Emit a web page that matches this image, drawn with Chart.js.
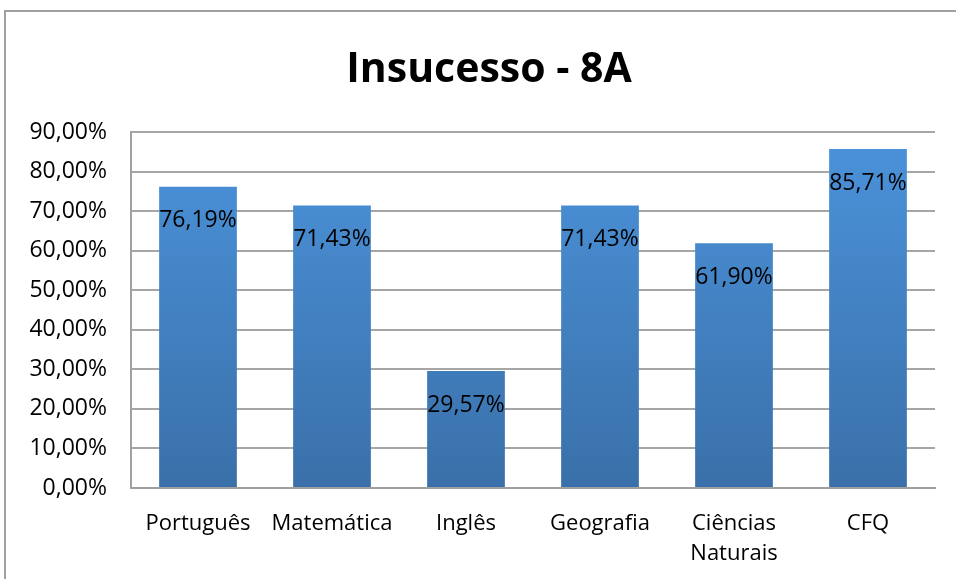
<!DOCTYPE html>
<html>
<head>
<meta charset="utf-8">
<script src="https://cdn.jsdelivr.net/npm/chart.js@4/dist/chart.umd.min.js"></script>
<style>
  html, body { margin: 0; padding: 0; overflow: hidden; background: #fff; }
  #frame { position: absolute; left: 4px; top: 10px; width: 1000px; height: 700px; border: 2px solid #a0a0a0; box-sizing: border-box; }
  #wrap { position: absolute; left: 0; top: 0; width: 956px; height: 579px; }
</style>
</head>
<body>
<div id="frame"></div>
<div id="wrap"><canvas id="chartInsucesso"></canvas></div>
<script>
// disciplinas e percentagens de insucesso
const titulo = 'Insucesso - 8A';
const disciplinas = ['Português', 'Matemática', 'Inglês', 'Geografia', ['Ciências', 'Naturais'], 'CFQ'];
const insucesso = [76.19, 71.43, 29.57, 71.43, 61.90, 85.71];
const yTicks = [0, 10, 20, 30, 40, 50, 60, 70, 80, 90];

const fmt = v => v.toFixed(2).replace('.', ',') + '%';
const fonte = "'Open Sans', sans-serif";

// titulo centrado no quadro (mais largo que a janela)
const tituloPlugin = {
  id: 'tituloPlugin',
  afterDraw(chart) {
    const ctx = chart.ctx;
    ctx.save();
    ctx.font = 'bold 41px ' + fonte;
    ctx.fillStyle = '#000';
    ctx.textAlign = 'center';
    ctx.textBaseline = 'middle';
    ctx.fillText(titulo, 489, 70);
    ctx.restore();
  }
};

// etiquetas dentro das barras
const etiquetas = {
  id: 'etiquetas',
  afterDatasetsDraw(chart) {
    const ctx = chart.ctx;
    ctx.save();
    ctx.font = '23px ' + fonte;
    ctx.fillStyle = '#000';
    ctx.textAlign = 'center';
    ctx.textBaseline = 'middle';
    chart.getDatasetMeta(0).data.forEach((bar, i) => {
      ctx.fillText(fmt(insucesso[i]), bar.x, bar.y + 34);
    });
    ctx.restore();
  }
};

const ctx1 = document.getElementById('chartInsucesso').getContext('2d');
const chartInsucesso = new Chart(ctx1, {
  type: 'bar',
  data: {
    labels: disciplinas,
    datasets: [{
      label: 'Insucesso',
      data: insucesso,
      backgroundColor: function(c) {
        const area = c.chart.chartArea;
        if (!area) return '#4a8fd5';
        const g = c.chart.ctx.createLinearGradient(0, area.top, 0, area.bottom);
        g.addColorStop(0, '#4b93db');
        g.addColorStop(1, '#3a70a9');
        return g;
      },
      borderWidth: 0,
      categoryPercentage: 1,
      barPercentage: 0.58
    }]
  },
  options: {
    responsive: true,
    maintainAspectRatio: false,
    animation: false,
    layout: { padding: { left: 0, right: 21, top: 132, bottom: 0 } },
    plugins: {
      legend: { display: false },
      tooltip: { enabled: false },
      title: { display: false }
    },
    scales: {
      x: {
        grid: { display: false, drawTicks: false },
        border: { color: '#a0a0a0', width: 2 },
        ticks: { color: '#000', font: { family: fonte, size: 22, lineHeight: 1.4 }, padding: 20, maxRotation: 0, autoSkip: false },
        afterFit: s => { s.height = 91; }
      },
      y: {
        min: 0,
        max: 90,
        afterBuildTicks: s => { s.ticks = yTicks.map(v => ({ value: v })); },
        grid: { color: '#a6a6a6', lineWidth: 2, drawTicks: false },
        border: { color: '#a0a0a0', width: 2 },
        ticks: { color: '#000', font: { family: fonte, size: 23 }, padding: 24, callback: v => fmt(v) },
        afterFit: s => { s.width = 131; }
      }
    }
  },
  plugins: [etiquetas, tituloPlugin]
});
</script>
</body>
</html>
